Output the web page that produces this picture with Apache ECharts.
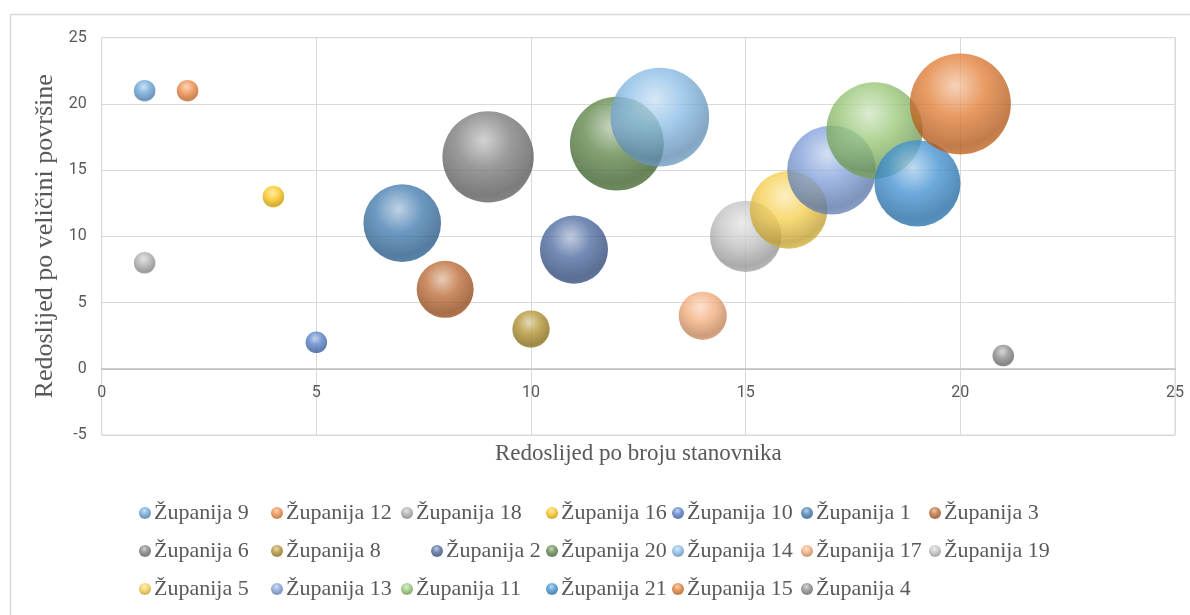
<!DOCTYPE html>
<html>
<head>
<meta charset="utf-8">
<script src="https://cdn.jsdelivr.net/npm/echarts@6/dist/echarts.min.js"></script>
<style>
html,body{margin:0;padding:0;background:#fff;}
#chart{width:1190px;height:615px;}
</style>
</head>
<body>
<div id="chart"></div>
<script>
// ---- data ----
const counties = ['Županija 9','Županija 12','Županija 18','Županija 16','Županija 10','Županija 1','Županija 3',
  'Županija 6','Županija 8','Županija 2','Županija 20','Županija 14','Županija 17','Županija 19',
  'Županija 5','Županija 13','Županija 11','Županija 21','Županija 15','Županija 4'];
const popRank  = [1, 2, 1, 4, 5, 7, 8, 9, 10, 11, 12, 13, 14, 15, 16, 17, 18, 19, 20, 21];
const areaRank = [21, 21, 8, 13, 2, 11, 6, 16, 3, 9, 17, 19, 4, 10, 12, 15, 18, 14, 20, 1];
const bubbleSize = [1, 1, 1, 1, 1, 13, 7, 18, 3, 10, 19, 21, 5, 11, 13, 17, 20, 16, 22, 1];
const xTitle = 'Redoslijed po broju stanovnika';
const yTitle = 'Redoslijed po veličini površine';

// ---- styling ----
const baseColors = ['#5B9BD5','#ED7D31','#A5A5A5','#FFC000','#4472C4','#2F6FA8','#B55A1E',
  '#707070','#A8861A','#3A5A96','#4E7A36','#7CB4E3','#F2A46E','#BDBDBD',
  '#F6CB3E','#7496D6','#8CC168','#2E86CE','#E07020','#7F7F7F'];
function hexToRgb(h){h=h.replace('#','');return [parseInt(h.substr(0,2),16),parseInt(h.substr(2,2),16),parseInt(h.substr(4,2),16)];}
function mix(h, target, t){const c=hexToRgb(h);return 'rgb('+c.map((v,i)=>Math.round(v+(target[i]-v)*t)).join(',')+')';}
function sphere(h){
  return {type:'radial',x:0.45,y:0.32,r:0.75,colorStops:[
    {offset:0,color:mix(h,[255,255,255],0.6)},
    {offset:0.4,color:mix(h,[255,255,255],0.1)},
    {offset:0.8,color:mix(h,[0,0,0],0.22)},
    {offset:0.93,color:mix(h,[0,0,0],0.12)},
    {offset:1,color:mix(h,[255,255,255],0.25)}
  ]};
}
const maxSize = Math.max.apply(null,bubbleSize);
const maxDiam = 101;

const series = counties.map((name,i)=>({
  name:name,
  type:'scatter',
  data:[[popRank[i],areaRank[i],bubbleSize[i]]],
  symbolSize:function(v){return maxDiam*Math.sqrt(v[2]/maxSize);},
  itemStyle:{color:sphere(baseColors[i]),opacity:0.78},
  emphasis:{disabled:true},
  z:2
}));

// legend layout: 3 rows x 7 columns
const colX = [145,277,407,552,678,807,935];
const rowY = [513,551,589];
const legendOffset = {'Županija 2':30};
const legends = counties.map((name,i)=>({
  data:[name],
  left:colX[i%7]-6+(legendOffset[name]||0),
  top:rowY[Math.floor(i/7)]-13,
  padding:0,
  icon:'circle',
  itemWidth:12,itemHeight:12,
  textStyle:{fontFamily:'Liberation Serif',fontSize:22,color:'#595959',lineHeight:26,padding:[0,0,0,-2]}
}));

const chart = echarts.init(document.getElementById('chart'),null,{renderer:'canvas'});
chart.setOption({
  animation:false,
  backgroundColor:'#fff',
  color:baseColors,
  grid:{left:101.7,right:15,top:37.7,bottom:180,show:true,borderColor:'#d9d9d9',borderWidth:1},
  xAxis:{
    type:'value',min:0,max:25,interval:5,
    name:xTitle,nameLocation:'middle',nameGap:7,
    nameTextStyle:{fontFamily:'Liberation Serif',fontSize:23,color:'#595959'},
    axisLine:{show:true,onZero:true,lineStyle:{color:'#bfbfbf',width:1.5}},
    axisTick:{show:false},
    axisLabel:{fontFamily:'Roboto',fontSize:16,color:'#595959',margin:-50},
    splitLine:{show:true,lineStyle:{color:'#d9d9d9',width:1}}
  },
  yAxis:{
    type:'value',min:-5,max:25,interval:5,
    name:yTitle,nameLocation:'middle',nameGap:41,nameRotate:90,
    nameTextStyle:{fontFamily:'Liberation Serif',fontSize:26,color:'#595959'},
    axisLine:{show:false},
    axisTick:{show:false},
    axisLabel:{fontFamily:'Roboto',fontSize:16,color:'#595959',margin:15},
    splitLine:{show:true,lineStyle:{color:'#d9d9d9',width:1}}
  },
  legend:legends,
  graphic:[{type:'rect',shape:{x:10.5,y:14.5,width:1300,height:700},style:{fill:'none',stroke:'#d9d9d9',lineWidth:1.5},silent:true,z:-1}],
  series:series
});
</script>
</body>
</html>
